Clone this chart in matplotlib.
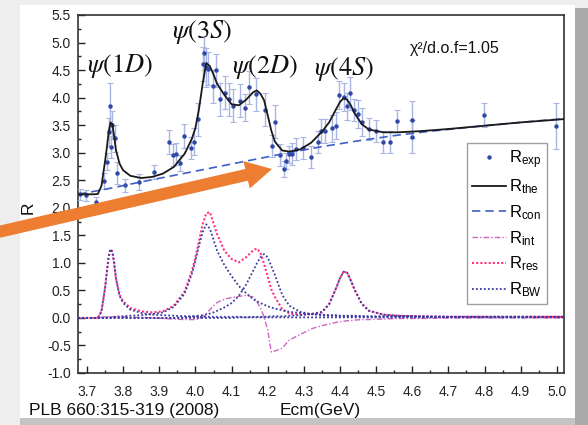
import matplotlib
matplotlib.use("Agg")
import matplotlib.pyplot as plt
from matplotlib.patches import Rectangle, FancyArrow
from matplotlib.transforms import IdentityTransform
from matplotlib.ticker import MultipleLocator, FormatStrFormatter

plt.rcParams['font.family'] = ['Liberation Sans', 'DejaVu Sans']
plt.rcParams['mathtext.fontset'] = 'custom'
plt.rcParams['mathtext.rm'] = 'Liberation Sans'
plt.rcParams['mathtext.it'] = 'Liberation Sans:italic'
plt.rcParams['axes.unicode_minus'] = False

# ---------------- measured R values ----------------
E_exp = [3.680, 3.697, 3.725, 3.748, 3.756, 3.760, 3.764, 3.767, 3.770, 3.777,
         3.784, 3.806, 3.845, 3.886, 3.927, 3.937, 3.946, 3.957, 3.967, 3.987,
         3.997, 4.006, 4.021, 4.024, 4.029, 4.036, 4.048, 4.057, 4.068, 4.082,
         4.094, 4.105, 4.123, 4.137, 4.149, 4.168, 4.192, 4.211, 4.220, 4.234,
         4.245, 4.252, 4.258, 4.266, 4.278, 4.298, 4.319, 4.338, 4.348, 4.358,
         4.378, 4.388, 4.398, 4.410, 4.419, 4.428, 4.439, 4.450, 4.460, 4.479,
         4.499, 4.519, 4.538, 4.558, 4.599, 4.599, 4.799, 4.999]
R_exp = [2.245, 2.23, 2.11, 2.49, 2.84, 3.38, 3.84, 3.11, 3.50, 3.26,
         2.63, 2.41, 2.47, 2.65, 3.20, 2.96, 2.97, 2.81, 3.30, 3.08,
         3.20, 3.61, 4.61, 4.81, 4.55, 4.52, 4.21, 4.50, 3.97, 4.09,
         3.97, 3.85, 3.94, 3.82, 4.19, 4.06, 3.78, 3.12, 3.56, 2.95,
         2.70, 2.85, 2.97, 2.97, 3.06, 3.08, 2.92, 3.20, 3.40, 3.39,
         3.44, 3.49, 4.05, 4.01, 3.84, 4.08, 3.77, 3.70, 3.56, 3.43,
         3.40, 3.20, 3.20, 3.58, 3.60, 3.29, 3.68, 3.49]
R_err = [0.10, 0.10, 0.08, 0.15, 0.15, 0.25, 0.42, 0.20, 0.25, 0.25,
         0.20, 0.12, 0.15, 0.12, 0.22, 0.20, 0.20, 0.15, 0.22, 0.20,
         0.25, 0.30, 0.30, 0.30, 0.35, 0.30, 0.30, 0.30, 0.30, 0.30,
         0.30, 0.30, 0.30, 0.25, 0.30, 0.30, 0.30, 0.20, 0.30, 0.20,
         0.15, 0.15, 0.15, 0.20, 0.20, 0.20, 0.20, 0.20, 0.22, 0.22,
         0.25, 0.25, 0.25, 0.25, 0.25, 0.30, 0.20, 0.25, 0.25, 0.20,
         0.20, 0.20, 0.20, 0.20, 0.33, 0.30, 0.22, 0.42]

# ---------------- fit components ----------------
E_fit = [3.675, 3.700, 3.720, 3.730, 3.740, 3.750, 3.755, 3.760, 3.765, 3.770,
         3.775, 3.780, 3.790, 3.800, 3.820, 3.850, 3.880, 3.910, 3.940, 3.970,
         3.990, 4.000, 4.010, 4.020, 4.030, 4.040, 4.050, 4.060, 4.080, 4.100,
         4.120, 4.140, 4.160, 4.170, 4.180, 4.190, 4.200, 4.210, 4.220, 4.240,
         4.260, 4.290, 4.320, 4.350, 4.370, 4.390, 4.400, 4.410, 4.420, 4.430,
         4.440, 4.460, 4.480, 4.520, 4.560, 4.620, 4.700, 4.800, 4.900, 5.020]

R_the = [2.245, 2.245, 2.245, 2.250, 2.400, 2.850, 3.100, 3.380, 3.550, 3.520,
         3.300, 3.050, 2.800, 2.680, 2.580, 2.540, 2.560, 2.620, 2.740, 2.980,
         3.250, 3.450, 3.800, 4.250, 4.630, 4.570, 4.420, 4.250, 4.050, 3.880,
         3.860, 3.960, 4.100, 4.130, 4.070, 3.950, 3.680, 3.400, 3.200, 3.040,
         3.020, 3.060, 3.180, 3.380, 3.550, 3.800, 3.920, 3.990, 3.960, 3.860,
         3.720, 3.520, 3.420, 3.370, 3.370, 3.390, 3.430, 3.490, 3.550, 3.610]

R_res = [0.00, 0.00, 0.00, 0.00, 0.12, 0.55, 0.85, 1.12, 1.25, 1.20,
         1.00, 0.72, 0.42, 0.30, 0.18, 0.12, 0.10, 0.12, 0.22, 0.48,
         0.85, 1.10, 1.40, 1.70, 1.90, 1.92, 1.72, 1.52, 1.22, 1.07,
         1.01, 1.10, 1.23, 1.26, 1.18, 0.98, 0.75, 0.52, 0.38, 0.16,
         0.08, 0.06, 0.07, 0.10, 0.25, 0.55, 0.72, 0.84, 0.82, 0.68,
         0.52, 0.26, 0.13, 0.06, 0.04, 0.03, 0.02, 0.02, 0.02, 0.02]

R_int = [0.00, 0.00, 0.00, 0.00, 0.01, 0.02, 0.02, 0.02, 0.02, 0.02,
         0.02, 0.02, 0.02, 0.02, 0.01, 0.01, 0.00, -0.01, -0.02, -0.03,
         -0.03, -0.03, -0.02, 0.02, 0.08, 0.15, 0.22, 0.28, 0.34, 0.37,
         0.39, 0.41, 0.38, 0.30, 0.18, 0.02, -0.22, -0.62, -0.60, -0.55,
         -0.40, -0.30, -0.20, -0.14, -0.11, -0.08, -0.07, -0.06, -0.05, -0.05,
         -0.04, -0.03, -0.03, -0.02, -0.01, -0.01, 0.00, 0.00, 0.00, 0.00]

BW_1D = [0.00, 0.00, 0.00, 0.00, 0.12, 0.55, 0.85, 1.12, 1.25, 1.20,
         1.00, 0.72, 0.40, 0.27, 0.15, 0.09, 0.06, 0.05, 0.04, 0.03,
         0.03, 0.03, 0.02, 0.02, 0.02, 0.02, 0.02, 0.02, 0.02, 0.02,
         0.02, 0.01, 0.01, 0.01, 0.01, 0.01, 0.01, 0.01, 0.01, 0.01,
         0.01, 0.01, 0.01, 0.01, 0.01, 0.01, 0.01, 0.01, 0.01, 0.01,
         0.01, 0.01, 0.01, 0.01, 0.01, 0.01, 0.01, 0.01, 0.01, 0.01]

BW_3S = [0.00, 0.00, 0.00, 0.00, 0.00, 0.01, 0.01, 0.01, 0.01, 0.02,
         0.02, 0.02, 0.03, 0.03, 0.04, 0.05, 0.07, 0.10, 0.20, 0.44,
         0.80, 1.04, 1.32, 1.56, 1.70, 1.62, 1.42, 1.22, 0.96, 0.76,
         0.58, 0.45, 0.34, 0.30, 0.27, 0.24, 0.21, 0.19, 0.17, 0.14,
         0.11, 0.09, 0.07, 0.06, 0.05, 0.05, 0.04, 0.04, 0.04, 0.04,
         0.04, 0.03, 0.03, 0.03, 0.03, 0.02, 0.02, 0.02, 0.02, 0.02]

BW_2D = [0.00, 0.00, 0.00, 0.00, 0.00, 0.00, 0.00, 0.00, 0.00, 0.00,
         0.00, 0.00, 0.00, 0.00, 0.00, 0.00, 0.00, 0.00, 0.00, 0.01,
         0.02, 0.03, 0.04, 0.05, 0.06, 0.08, 0.10, 0.13, 0.19, 0.27,
         0.40, 0.60, 0.86, 0.99, 1.10, 1.16, 1.10, 0.94, 0.78, 0.42,
         0.22, 0.11, 0.07, 0.05, 0.04, 0.04, 0.03, 0.03, 0.03, 0.03,
         0.03, 0.03, 0.02, 0.02, 0.02, 0.02, 0.02, 0.02, 0.02, 0.02]

BW_4S = [0.00, 0.00, 0.00, 0.00, 0.00, 0.00, 0.00, 0.00, 0.00, 0.00,
         0.00, 0.00, 0.00, 0.00, 0.00, 0.00, 0.00, 0.00, 0.00, 0.00,
         0.00, 0.00, 0.00, 0.00, 0.00, 0.00, 0.00, 0.00, 0.00, 0.00,
         0.01, 0.01, 0.02, 0.02, 0.02, 0.02, 0.02, 0.03, 0.03, 0.03,
         0.04, 0.05, 0.07, 0.11, 0.25, 0.55, 0.72, 0.84, 0.82, 0.68,
         0.52, 0.26, 0.13, 0.06, 0.04, 0.03, 0.02, 0.02, 0.02, 0.02]

E_con = [3.675, 3.75, 3.85, 3.95, 4.05, 4.15, 4.25, 4.35, 4.45, 4.55,
         4.65, 4.75, 4.85, 4.95, 5.02]
R_con = [2.245, 2.335, 2.470, 2.600, 2.730, 2.860, 2.990, 3.110, 3.215, 3.310,
         3.390, 3.455, 3.520, 3.580, 3.615]

state_labels = [r'$\psi(1D)$', r'$\psi(3S)$', r'$\psi(2D)$', r'$\psi(4S)$']
state_pos = [(3.790, 4.57), (4.018, 5.19), (4.192, 4.55), (4.412, 4.52)]

# ---------------- figure & slide background ----------------
W, H = 588, 425
fig = plt.figure(figsize=(W / 100, H / 100), dpi=100)
fig.patch.set_facecolor('#eeeeee')


def px_rect(x0, y0, x1, y1, color, z=-5):
    fig.add_artist(Rectangle((x0 / W, 1 - y1 / H), (x1 - x0) / W, (y1 - y0) / H,
                             transform=fig.transFigure, facecolor=color,
                             edgecolor='none', zorder=z))


px_rect(20, 5, 575, 418, 'white')
px_rect(575, 8, 588, 425, '#ababab')
px_rect(20, 418, 575, 425, '#c4c4c4')

ax = fig.add_axes([78 / W, 1 - 373 / H, (564 - 78) / W, (373 - 15) / H])
ax.set_facecolor('white')

# data with error bars
ax.errorbar(E_exp, R_exp, yerr=R_err, fmt='none', ecolor='#a9b6e3',
            elinewidth=1.0, capsize=2, capthick=0.8, zorder=3)
ax.plot(E_exp, R_exp, 'o', ms=3.2, color='#2f47a8', mec='none', zorder=4,
        label=r'R$_{\mathrm{exp}}$')

ax.plot(E_fit, R_the, '-', color='#1a1a1a', lw=1.3, zorder=5,
        label=r'R$_{\mathrm{the}}$')
ax.plot(E_con, R_con, color='#3f5fc8', lw=1.2, dashes=(5, 3), zorder=4,
        label=r'R$_{\mathrm{con}}$')
ax.plot(E_fit, R_int, color='#cc66c0', lw=1.0, dashes=(4, 1.5, 1, 1.5),
        zorder=4, label=r'R$_{\mathrm{int}}$')
ax.plot(E_fit, R_res, color='#ff3380', lw=1.5, dashes=(1, 1), zorder=4,
        label=r'R$_{\mathrm{res}}$')
bw_style = dict(color='#3a3aa0', lw=1.3, dashes=(1, 1.2), zorder=4)
ax.plot(E_fit, BW_1D, label=r'R$_{\mathrm{BW}}$', **bw_style)
for comp in (BW_3S, BW_2D, BW_4S):
    ax.plot(E_fit, comp, **bw_style)

ax.set_xlim(3.675, 5.02)
ax.set_ylim(-1.0, 5.5)
ax.xaxis.set_major_locator(MultipleLocator(0.1))
ax.xaxis.set_minor_locator(MultipleLocator(0.05))
ax.yaxis.set_major_locator(MultipleLocator(0.5))
ax.yaxis.set_minor_locator(MultipleLocator(0.25))
ax.xaxis.set_major_formatter(FormatStrFormatter('%.1f'))
ax.yaxis.set_major_formatter(FormatStrFormatter('%.1f'))
ax.tick_params(which='both', direction='in', top=False, right=False,
               colors='#222222', labelsize=10)
ax.tick_params(which='major', length=5, width=1)
ax.tick_params(which='minor', length=2.5, width=1)
ax.tick_params(axis='x', pad=9)
ax.tick_params(axis='y', pad=5)
for s in ax.spines.values():
    s.set_color('#333333')
    s.set_linewidth(1.2)

for lab, (x, y) in zip(state_labels, state_pos):
    ax.text(x, y, lab, math_fontfamily='stix', fontsize=19, ha='center',
            va='center', color='#111111', zorder=6)
ax.text(4.593, 4.90, 'χ²/d.o.f=1.05', fontsize=11.5, ha='left', va='center',
        color='#111111')

leg = ax.legend(loc='upper right',
                bbox_to_anchor=((547 - 78) / 486, (373 - 143) / 358),
                frameon=True, fancybox=False, fontsize=12, handlelength=2.0,
                handletextpad=0.2, labelspacing=0.42, borderpad=0.3,
                borderaxespad=0)
leg.get_frame().set_edgecolor('#888888')
leg.get_frame().set_linewidth(1.0)

fig.text(28 / W, 1 - 208 / H, 'R', rotation=90, ha='center', va='center',
         fontsize=12.5, color='#111111')
fig.text(320 / W, 1 - 410 / H, 'Ecm(GeV)', ha='center', va='center',
         fontsize=12.5, color='#111111')
fig.text(29 / W, 1 - 410 / H, 'PLB 660:315-319 (2008)', ha='left',
         va='center', fontsize=12.5, color='#111111')

# orange pointer
arrow = FancyArrow(-6, H - 233, 278, 64, width=12, head_width=28,
                   head_length=26, length_includes_head=True,
                   transform=IdentityTransform(), facecolor='#ed7d31',
                   edgecolor='none', zorder=10)
fig.add_artist(arrow)

fig.savefig('out.png', dpi=100, facecolor=fig.get_facecolor())
